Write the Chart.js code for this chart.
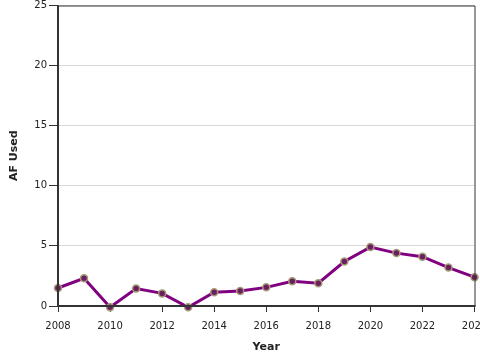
<!DOCTYPE html>
<html>
<head>
<meta charset="utf-8">
<script src="https://cdn.jsdelivr.net/npm/chart.js@4"></script>
<style>
  html, body { margin: 0; padding: 0; background: #fff; overflow: hidden; }
  #wrap { position: relative; width: 480px; height: 360px; }
</style>
</head>
<body>
<div id="wrap"><canvas id="chart"></canvas></div>
<script>
// data
const years = [2008, 2009, 2010, 2011, 2012, 2013, 2014, 2015, 2016, 2017, 2018, 2019, 2020, 2021, 2022, 2023, 2024];
const afUsed = [1.5, 2.3, -0.1, 1.45, 1.05, -0.1, 1.15, 1.25, 1.55, 2.05, 1.9, 3.7, 4.9, 4.4, 4.1, 3.2, 2.4];
const yTicks = [0, 5, 10, 15, 20, 25];

const font = 'DejaVu Sans';

// frame around the plot area
const framePlugin = {
    id: 'frame',
    afterDraw(chart) {
        const a = chart.chartArea;
        const ctx = chart.ctx;
        ctx.save();
        ctx.strokeStyle = '#333';
        ctx.lineWidth = 1;
        ctx.beginPath();
        ctx.moveTo(a.left, a.top + 0.5);
        ctx.lineTo(a.right + 0.5, a.top + 0.5);
        ctx.lineTo(a.right + 0.5, a.bottom);
        ctx.stroke();
        ctx.lineWidth = 2;
        ctx.beginPath();
        ctx.moveTo(a.left, a.top);
        ctx.lineTo(a.left, a.bottom);
        ctx.lineTo(a.right + 1, a.bottom);
        ctx.stroke();
        ctx.restore();
    }
};

new Chart(document.getElementById('chart'), {
    type: 'line',
    data: {
        datasets: [{
            label: 'AF Used',
            data: years.map((y, i) => ({ x: y, y: afUsed[i] })),
            borderColor: '#800080',
            borderWidth: 3,
            pointRadius: 3.5,
            pointBorderWidth: 1.5,
            pointBackgroundColor: '#6b1f5e',
            pointBorderColor: '#a49c78',
            tension: 0,
            clip: false
        }]
    },
    options: {
        responsive: true,
        maintainAspectRatio: false,
        animation: false,
        layout: { padding: { top: 4, left: 0, right: 5, bottom: 0 } },
        plugins: { legend: { display: false }, tooltip: { enabled: false } },
        scales: {
            x: {
                type: 'linear',
                min: 2008,
                max: 2024,
                afterFit: s => { s.height = 54; s.paddingLeft = 0; s.paddingRight = 0; },
                ticks: {
                    stepSize: 2,
                    callback: v => String(v),
                    color: '#222',
                    font: { family: font, size: 10 },
                    maxRotation: 0,
                    padding: 8
                },
                grid: { drawOnChartArea: false, tickLength: 6, tickColor: '#333' },
                border: { display: false },
                title: { display: true, text: 'Year', color: '#222', font: { family: font, size: 11, weight: 'bold' }, padding: { top: 8, bottom: 6 } }
            },
            y: {
                min: 0,
                max: 25,
                afterBuildTicks: s => { s.ticks = yTicks.map(v => ({ value: v })); },
                afterFit: s => { s.width = 58; s.paddingTop = 0; s.paddingBottom = 0; },
                ticks: {
                    color: '#222',
                    font: { family: font, size: 10 },
                    padding: 2
                },
                grid: { color: '#d8d8d8', tickLength: 9, tickColor: '#333' },
                border: { display: false },
                title: { display: true, text: 'AF Used', color: '#222', font: { family: font, size: 11, weight: 'bold' }, padding: { top: 7.5, bottom: 15 } }
            }
        }
    },
    plugins: [framePlugin]
});
</script>
</body>
</html>
